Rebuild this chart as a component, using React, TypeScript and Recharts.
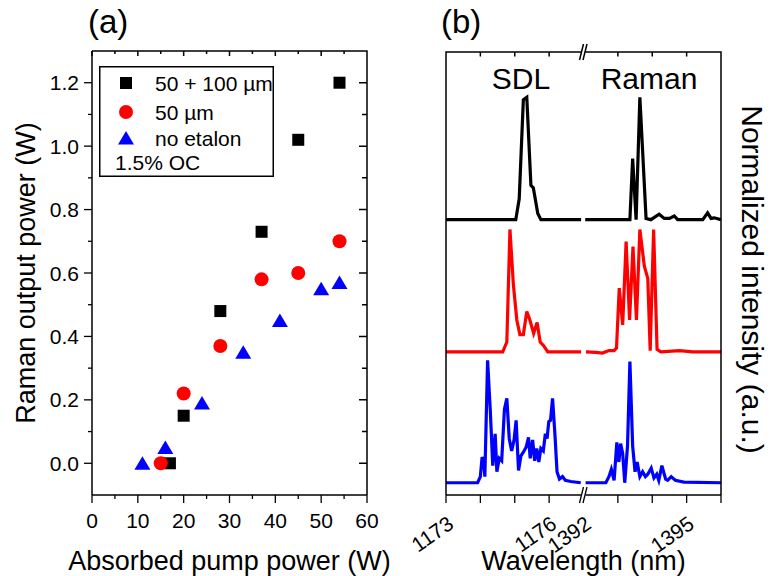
import React from 'react'
import { ComposedChart, Scatter, Line, XAxis, YAxis, Legend, Customized } from 'recharts'

const FONT = '"Liberation Sans", Arial, Helvetica, sans-serif'
const FRAME_W = 1.5
const AX = { stroke: '#000', strokeWidth: FRAME_W }
const H = 576
const A_W = 400
const B_W = 370

// plot boxes of the two panels (page pixels)
const A_LEFT = 92
const A_RIGHT = 367
const A_TOP = 51
const A_BOTTOM = 495
const B_LEFT = 446
const B_RIGHT = 721
const B_TOP = 52
const B_BOTTOM = 495

// (a) Raman output power vs absorbed pump power
const pumpBoth = [17, 20, 28, 37, 45, 54]
const powerBoth = [0.0, 0.15, 0.48, 0.73, 1.02, 1.2]
const pump50 = [15, 20, 28, 37, 45, 54]
const power50 = [0.0, 0.22, 0.37, 0.58, 0.6, 0.7]
const pumpNone = [11, 16, 24, 33, 41, 50, 54]
const powerNone = [0.0, 0.05, 0.19, 0.35, 0.45, 0.55, 0.57]

const pumpDomain = [0, 60]
const powerDomain = [-0.1, 1.3]
const pumpTicks = [0, 5, 10, 15, 20, 25, 30, 35, 40, 45, 50, 55, 60]
const powerTicks = [0, 0.1, 0.2, 0.3, 0.4, 0.5, 0.6, 0.7, 0.8, 0.9, 1.0, 1.1, 1.2]

// (b) spectra, SDL part (~1173-1177 nm) and Raman part (1392-1396 nm)
const blackSdlWl = [1173.0, 1175.03, 1175.13, 1175.25, 1175.35, 1175.47, 1175.54, 1175.67, 1175.76, 1176.93]
const blackSdlInt = [0, 0, 0.17, 0.98, 1.0, 0.28, 0.26, 0.05, 0, 0]
const blackRamanWl = [1392.05, 1393.35, 1393.43, 1393.53, 1393.64, 1393.82, 1393.96, 1394.2, 1394.35, 1394.5, 1394.64, 1394.74, 1395.47, 1395.61, 1395.71, 1395.8, 1396]
const blackRamanInt = [0, 0, 0.5, 0, 1.0, 0.01, 0, 0.045, 0.01, 0.01, 0.03, 0, 0, 0.055, 0.01, 0.015, 0]

const redSdlWl = [1173.0, 1174.65, 1174.77, 1174.86, 1174.96, 1175.06, 1175.15, 1175.25, 1175.35, 1175.44, 1175.55, 1175.65, 1175.74, 1175.84, 1175.96, 1176.93]
const redSdlInt = [0, 0, 0.08, 1.0, 0.55, 0.26, 0.14, 0.14, 0.33, 0.26, 0.15, 0.24, 0.08, 0.05, 0, 0]
const redRamanWl = [1392.07, 1392.36, 1392.55, 1392.74, 1392.89, 1392.96, 1393.04, 1393.14, 1393.24, 1393.34, 1393.44, 1393.54, 1393.64, 1393.77, 1393.87, 1393.94, 1394.04, 1394.14, 1394.25, 1394.79, 1395.18, 1396]
const redRamanInt = [0, -0.005, -0.01, 0.01, 0.01, 0.03, 0.52, 0.22, 0.9, 0.26, 0.86, 0.26, 1.0, 0.7, 0.6, 0.01, 1.0, 0.02, 0, 0.01, 0, 0]

const blueSdlWl = [1173.0, 1173.92, 1174.0, 1174.05, 1174.1, 1174.13, 1174.21, 1174.29, 1174.36, 1174.43, 1174.48, 1174.55, 1174.62, 1174.7, 1174.77, 1174.84, 1174.91, 1174.98, 1175.04, 1175.11, 1175.18, 1175.25, 1175.33, 1175.4, 1175.45, 1175.52, 1175.58, 1175.64, 1175.7, 1175.76, 1175.83, 1175.89, 1175.94, 1175.99, 1176.04, 1176.1, 1176.17, 1176.23, 1176.3, 1176.39, 1176.47, 1176.63, 1176.92]
const blueSdlInt = [0, 0, 0.05, 0.21, 0.17, 0.05, 1.0, 0.58, 0.14, 0.4, 0.09, 0.2, 0.18, 0.6, 0.69, 0.36, 0.26, 0.35, 0.51, 0.1, 0.22, 0.25, 0.29, 0.37, 0.2, 0.35, 0.18, 0.28, 0.17, 0.28, 0.26, 0.4, 0.36, 0.5, 0.51, 0.69, 0.39, 0.09, 0.03, 0.05, 0.02, 0.01, 0]
const blueRamanWl = [1392.06, 1392.65, 1392.74, 1392.81, 1392.89, 1392.97, 1393.03, 1393.08, 1393.14, 1393.2, 1393.28, 1393.35, 1393.43, 1393.5, 1393.56, 1393.64, 1393.72, 1393.8, 1393.87, 1393.97, 1394.05, 1394.13, 1394.19, 1394.28, 1394.39, 1394.45, 1394.55, 1394.67, 1394.92, 1396]
const blueRamanInt = [0, 0, 0.05, 0.11, 0.02, 0.33, 0.17, 0.32, 0.24, 0, 0.3, 0.99, 0.3, 0.09, 0.17, 0.05, 0.09, 0.05, 0.07, 0.12, 0.04, 0.07, 0.02, 0.14, 0.03, 0.02, 0.05, 0.02, 0.005, 0]

const traceOffsets = { blue: 0, red: 1.07, black: 2.15 }
const wlDomain = [0, 8]
const wlTicks = [0, 1, 2, 3, 4, 5, 6, 7, 8]
const wlLabelled = [0, 3, 4, 7]
const B_YMAX = 3.52

// broken axis: 1173..1177 -> 0..4, 1392..1396 -> 4..8
const wlPos = (wl: number) => (wl < 1300 ? wl - 1173 : wl - 1388)
const wlLabel = (u: number) => (u < 4 ? 1173 + u : 1388 + u)

const toPoints = (xs: number[], ys: number[]) => xs.map((x, i) => ({ x, y: ys[i] }))
const buildTrace = (sWl: number[], sInt: number[], rWl: number[], rInt: number[], off: number) => [
  ...sWl.map((w, i) => ({ x: wlPos(w), y: sInt[i] + off })),
  { x: 4, y: null },
  ...rWl.map((w, i) => ({ x: wlPos(w), y: rInt[i] + off })),
]

const blackTrace = buildTrace(blackSdlWl, blackSdlInt, blackRamanWl, blackRamanInt, traceOffsets.black)
const redTrace = buildTrace(redSdlWl, redSdlInt, redRamanWl, redRamanInt, traceOffsets.red)
const blueTrace = buildTrace(blueSdlWl, blueSdlInt, blueRamanWl, blueRamanInt, traceOffsets.blue)

const isMajorPump = (v: number) => v % 10 === 0
const isMajorPower = (v: number) => Math.round(v * 10) % 2 === 0
const lerp = (v: number, d: number[], a: number, b: number) => a + ((v - d[0]) / (d[1] - d[0])) * (b - a)

function PumpTick({ x, y, payload }: any) {
  const major = isMajorPump(payload.value)
  return (
    <g>
      <line x1={x} x2={x} y1={y} y2={y + (major ? 8 : 4)} stroke="#000" strokeWidth={1.3} />
      {major && (
        <text x={x} y={y + 33} textAnchor="middle" fontSize={21} fontFamily={FONT} fill="#000">{payload.value}</text>
      )}
    </g>
  )
}

function PowerTick({ x, y, payload }: any) {
  const major = isMajorPower(payload.value)
  return (
    <g>
      <line x1={x - (major ? 8 : 4)} x2={x} y1={y} y2={y} stroke="#000" strokeWidth={1.3} />
      {major && (
        <text x={x - 13} y={y + 7.5} textAnchor="end" fontSize={21} fontFamily={FONT} fill="#000">
          {payload.value.toFixed(1)}
        </text>
      )}
    </g>
  )
}

const breakPath = (x: number, y: number) =>
  `M${x - 4},${y + 8}L${x},${y - 8}M${x - 0.5},${y + 8}L${x + 3.5},${y - 8}`

function WlTick({ x, y, payload }: any) {
  const u = payload.value
  const tx = x + 9
  const ty = y + 32
  return (
    <g>
      {u === 4 ? (
        <g>
          <rect x={x - 2} y={y - 2} width={4} height={4} fill="#fff" />
          <path d={breakPath(x, y)} stroke="#000" strokeWidth={1.3} fill="none" />
        </g>
      ) : (
        <line x1={x} x2={x} y1={y} y2={y + 8} stroke="#000" strokeWidth={1.3} />
      )}
      {wlLabelled.includes(u) && (
        <text x={tx} y={ty} textAnchor="end" transform={`rotate(-35 ${tx} ${ty})`} fontSize={21} fontFamily={FONT} fill="#000">
          {wlLabel(u)}
        </text>
      )}
    </g>
  )
}

// frame edges not covered by the drawn axes, with inward mirrored ticks (page pixels)
function framePaths() {
  const ax = (v: number) => lerp(v, pumpDomain, A_LEFT, A_RIGHT)
  const ay = (v: number) => lerp(v, powerDomain, A_BOTTOM, A_TOP)
  const bx = (u: number) => lerp(u, wlDomain, B_LEFT, B_RIGHT)
  const xb = bx(4)
  let d = `M${A_LEFT},${A_TOP}H${A_RIGHT}V${A_BOTTOM}`
  pumpTicks.forEach((v) => { d += `M${ax(v)},${A_TOP}v${isMajorPump(v) ? 5 : 3}` })
  powerTicks.forEach((v) => { d += `M${A_RIGHT},${ay(v)}h${isMajorPower(v) ? -8 : -5}` })
  d += `M${B_LEFT},${B_BOTTOM}V${B_TOP}H${xb - 2}M${xb + 2},${B_TOP}H${B_RIGHT}V${B_BOTTOM}`
  wlTicks.filter((u) => u > 0 && u < 8 && u !== 4).forEach((u) => { d += `M${bx(u)},${B_TOP}v4.5` })
  d += breakPath(xb, B_TOP)
  return d
}

const TitleA = () => (
  <text x={88} y={33} fontSize={33} fontFamily={FONT} fill="#000">(a)</text>
)

const TitlesB = () => (
  <g fontFamily={FONT} fill="#000">
    <text x={441 - A_W} y={33} fontSize={33}>(b)</text>
    <text x={521 - A_W} y={89} textAnchor="middle" fontSize={30}>SDL</text>
    <text x={649 - A_W} y={89} textAnchor="middle" fontSize={30}>Raman</text>
  </g>
)

function SquareMark({ cx, cy }: any) {
  return <rect x={cx - 6} y={cy - 6} width={12} height={12} fill="#000" />
}
function CircleMark({ cx, cy }: any) {
  return <circle cx={cx} cy={cy} r={7} fill="#ff0000" />
}
function TriangleMark({ cx, cy }: any) {
  return <polygon points={`${cx},${cy - 7} ${cx - 8},${cy + 6.5} ${cx + 8},${cy + 6.5}`} fill="#0000ff" />
}

function LegendBox({ payload }: any) {
  const rows = [17, 46, 72]
  return (
    <svg width={175} height={111} style={{ display: 'block' }}>
      <rect x={0.75} y={0.75} width={173.5} height={109.5} fill="#fff" stroke="#000" strokeWidth={FRAME_W} />
      {(payload || []).map((entry: any, i: number) => {
        const cy = rows[i]
        const cx = 27
        return (
          <g key={entry.value}>
            {entry.type === 'square' && <SquareMark cx={cx} cy={cy} />}
            {entry.type === 'circle' && <CircleMark cx={cx} cy={cy} />}
            {entry.type === 'triangle' && <TriangleMark cx={cx} cy={cy} />}
            <text x={56} y={cy + 7.5} fontSize={21} fontFamily={FONT} fill="#000">{entry.value}</text>
          </g>
        )
      })}
      <text x={16} y={96 + 7.5} fontSize={21} fontFamily={FONT} fill="#000">1.5% OC</text>
    </svg>
  )
}

function PowerChart() {
  return (
    <ComposedChart width={A_W} height={H} margin={{ top: A_TOP, right: A_W - A_RIGHT, bottom: 0, left: 0 }}>
      <XAxis
        dataKey="x" type="number" domain={pumpDomain} allowDataOverflow ticks={pumpTicks} interval={0}
        height={H - A_BOTTOM} tickSize={0} tickMargin={0} tickLine={false} axisLine={AX} tick={PumpTick}
        label={{ value: 'Absorbed pump power (W)', position: 'center', dy: 25, fontSize: 27, fill: '#000', fontFamily: FONT }}
      />
      <YAxis
        dataKey="y" type="number" domain={powerDomain} allowDataOverflow ticks={powerTicks} interval={0}
        width={A_LEFT} tickSize={0} tickMargin={0} tickLine={false} axisLine={AX} tick={PowerTick}
        label={{ value: 'Raman output power (W)', angle: -90, position: 'center', dx: -21, fontSize: 27, fill: '#000', fontFamily: FONT }}
      />
      <Scatter name="50 + 100 µm" data={toPoints(pumpBoth, powerBoth)} fill="#000" legendType="square" shape={SquareMark} isAnimationActive={false} />
      <Scatter name="50 µm" data={toPoints(pump50, power50)} fill="#ff0000" legendType="circle" shape={CircleMark} isAnimationActive={false} />
      <Scatter name="no etalon" data={toPoints(pumpNone, powerNone)} fill="#0000ff" legendType="triangle" shape={TriangleMark} isAnimationActive={false} />
      <Legend
        layout="vertical" align="center" verticalAlign="middle"
        wrapperStyle={{ left: 99, top: 66, width: 175, height: 111 }}
        content={(props: any) => <LegendBox payload={props.payload} />}
      />
      <Customized component={TitleA} />
    </ComposedChart>
  )
}

function SpectraChart() {
  return (
    <ComposedChart width={B_W} height={H} margin={{ top: B_TOP, right: 0, bottom: 0, left: B_LEFT - A_W }}>
      <XAxis
        dataKey="x" type="number" domain={wlDomain} allowDataOverflow ticks={wlTicks} interval={0}
        height={H - B_BOTTOM} tickSize={0} tickMargin={0} tickLine={false} axisLine={AX} tick={WlTick}
        label={{ value: 'Wavelength (nm)', position: 'center', dy: 25, fontSize: 27, fill: '#000', fontFamily: FONT }}
      />
      <YAxis type="number" domain={[-0.1, B_YMAX]} allowDataOverflow hide />
      <YAxis
        yAxisId="right" orientation="right" type="number" domain={[-0.1, B_YMAX]} allowDataOverflow ticks={[0, 1, 2, 3]}
        width={A_W + B_W - B_RIGHT} tick={false} tickLine={false} axisLine={false}
        label={{ value: 'Normalized intensity (a.u.)', angle: 90, position: 'center', dx: 7, dy: 6, fontSize: 30, fill: '#000', fontFamily: FONT }}
      />
      <Line data={blueTrace} dataKey="y" type="linear" stroke="#0000ff" strokeWidth={3.2} dot={false} connectNulls={false} isAnimationActive={false} />
      <Line data={redTrace} dataKey="y" type="linear" stroke="#ff0000" strokeWidth={3.2} dot={false} connectNulls={false} isAnimationActive={false} />
      <Line data={blackTrace} dataKey="y" type="linear" stroke="#000" strokeWidth={3.2} dot={false} connectNulls={false} isAnimationActive={false} />
      <Customized component={TitlesB} />
    </ComposedChart>
  )
}

export default function App() {
  return (
    <div style={{ position: 'absolute', left: 0, top: 0, width: A_W + B_W, height: H, background: '#fff' }}>
      <div style={{ display: 'flex' }}>
        <PowerChart />
        <SpectraChart />
      </div>
      <svg
        width={A_W + B_W} height={H}
        style={{ position: 'absolute', left: 0, top: 0, pointerEvents: 'none', zIndex: 5 }}
      >
        <path d={framePaths()} fill="none" stroke="#000" strokeWidth={FRAME_W} />
      </svg>
    </div>
  )
}
